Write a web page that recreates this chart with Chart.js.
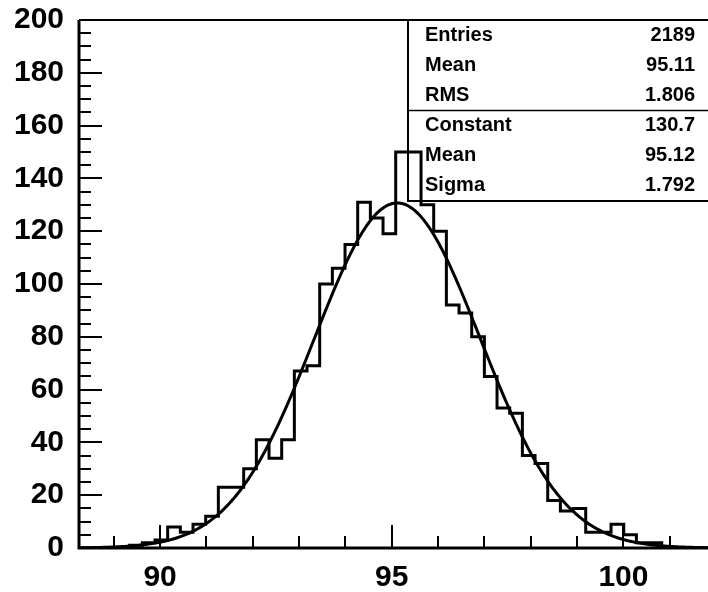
<!DOCTYPE html>
<html>
<head>
<meta charset="utf-8">
<script src="https://cdn.jsdelivr.net/npm/chart.js@4.4.0/dist/chart.umd.min.js"></script>
<style>
  html, body { margin: 0; padding: 0; background: #fff; overflow: hidden; }
  #wrap { width: 720px; height: 592px; }
</style>
</head>
<body>
<div id="wrap"><canvas id="histo" width="720" height="592"></canvas></div>
<script>
// histogram: 50 bins starting at binLow
const binLow = 88.25;
const binWidth = 0.2734;
const counts = [0, 0, 0, 0, 1, 2, 3, 8, 6, 9,
                12, 23, 23, 30, 41, 34, 41, 67, 69, 100,
                106, 115, 131, 125, 119, 150, 150, 130, 120, 92,
                89, 80, 65, 53, 51, 35, 32, 18, 14, 15,
                6, 6, 9, 5, 2, 2, 0, 0, 0, 0];

// gaus fit parameters (from the stats box)
const fitConstant = 130.7;
const fitMean = 95.12;
const fitSigma = 1.792;

const xTickLabels = [90, 95, 100];
const yTickLabels = [0, 20, 40, 60, 80, 100, 120, 140, 160, 180, 200];

const statNames = ["Entries", "Mean", "RMS", "Constant", "Mean", "Sigma"];
const statValues = ["2189", "95.11", "1.806", "130.7", "95.12", "1.792"];

const xMax = binLow + counts.length * binWidth;
const font = '"Liberation Sans", Arial, Helvetica, sans-serif';

// outline of the histogram, one point per bin low edge + last edge
const histPoints = counts.map((c, i) => ({ x: binLow + i * binWidth, y: c }));
histPoints.push({ x: xMax, y: counts[counts.length - 1] });

// fitted gaussian, drawn over the full range
const fitPoints = [];
for (let i = 0; i <= 400; i++) {
  const x = binLow + (xMax - binLow) * i / 400;
  const t = (x - fitMean) / fitSigma;
  fitPoints.push({ x: x, y: fitConstant * Math.exp(-0.5 * t * t) });
}

const framePlugin = {
  id: 'frame',
  afterDatasetsDraw(chart) {
    const { ctx, chartArea: a, scales: { x, y } } = chart;
    ctx.save();
    ctx.strokeStyle = '#000';
    ctx.lineCap = 'butt';

    // ticks pointing inwards, ROOT style
    ctx.lineWidth = 2;
    ctx.beginPath();
    for (let v = 0; v <= 200; v += 5) {
      const py = Math.round(y.getPixelForValue(v));
      const len = v % 20 === 0 ? 23 : 12;
      ctx.moveTo(a.left, py);
      ctx.lineTo(a.left + len, py);
    }
    for (let v = 89; v <= 101; v++) {
      const px = Math.round(x.getPixelForValue(v));
      const len = v % 5 === 0 ? 23 : 12;
      ctx.moveTo(px, a.bottom);
      ctx.lineTo(px, a.bottom - len);
    }
    ctx.stroke();

    // frame
    ctx.lineWidth = 3;
    ctx.beginPath();
    ctx.moveTo(a.left, a.top);
    ctx.lineTo(a.left, a.bottom);
    ctx.lineTo(a.right, a.bottom);
    ctx.stroke();
    ctx.lineWidth = 2;
    ctx.beginPath();
    ctx.moveTo(a.left, a.top);
    ctx.lineTo(a.right, a.top);
    ctx.stroke();

    // stats box
    const bx = 408, by = a.top, bb = 201;
    const rowH = (bb - by) / statNames.length;
    ctx.lineWidth = 2;
    ctx.beginPath();
    ctx.moveTo(bx, by);
    ctx.lineTo(bx, bb);
    ctx.lineTo(a.right, bb);
    ctx.stroke();
    ctx.lineWidth = 1.5;
    ctx.beginPath();
    ctx.moveTo(bx, by + rowH * 3);
    ctx.lineTo(a.right, by + rowH * 3);
    ctx.stroke();

    ctx.fillStyle = '#000';
    ctx.font = 'bold 20px ' + font;
    ctx.textBaseline = 'middle';
    statNames.forEach((name, i) => {
      const cy = by + rowH * (i + 0.5);
      ctx.textAlign = 'left';
      ctx.fillText(name, 425, cy);
      ctx.textAlign = 'right';
      ctx.fillText(statValues[i], 695, cy);
    });
    ctx.restore();
  }
};

new Chart(document.getElementById('histo').getContext('2d'), {
  type: 'line',
  data: {
    datasets: [
      {
        data: histPoints,
        stepped: true,
        borderColor: '#000',
        borderWidth: 3,
        pointRadius: 0,
        fill: false
      },
      {
        data: fitPoints,
        borderColor: '#000',
        borderWidth: 3,
        pointRadius: 0,
        tension: 0,
        fill: false
      }
    ]
  },
  options: {
    responsive: false,
    animation: false,
    devicePixelRatio: 1,
    layout: { padding: { top: 20, right: 7.6, left: 0, bottom: 0 } },
    plugins: {
      legend: { display: false },
      tooltip: { enabled: false }
    },
    scales: {
      x: {
        type: 'linear',
        min: binLow,
        max: xMax,
        grid: { display: false, drawTicks: false },
        border: { display: false },
        afterBuildTicks: (s) => { s.ticks = xTickLabels.map(v => ({ value: v })); },
        afterFit: (s) => { s.height = 44; s.paddingLeft = 0; s.paddingRight = 0; },
        ticks: {
          color: '#000',
          padding: 12,
          maxRotation: 0,
          font: { family: font, size: 30, weight: 'bold' }
        }
      },
      y: {
        type: 'linear',
        min: 0,
        max: 200,
        grid: { display: false, drawTicks: false },
        border: { display: false },
        afterBuildTicks: (s) => { s.ticks = yTickLabels.map(v => ({ value: v })); },
        afterFit: (s) => { s.width = 79; s.paddingTop = 0; s.paddingBottom = 0; },
        ticks: {
          color: '#000',
          padding: 15,
          font: { family: font, size: 30, weight: 'bold' }
        }
      }
    }
  },
  plugins: [framePlugin]
});
</script>
</body>
</html>
